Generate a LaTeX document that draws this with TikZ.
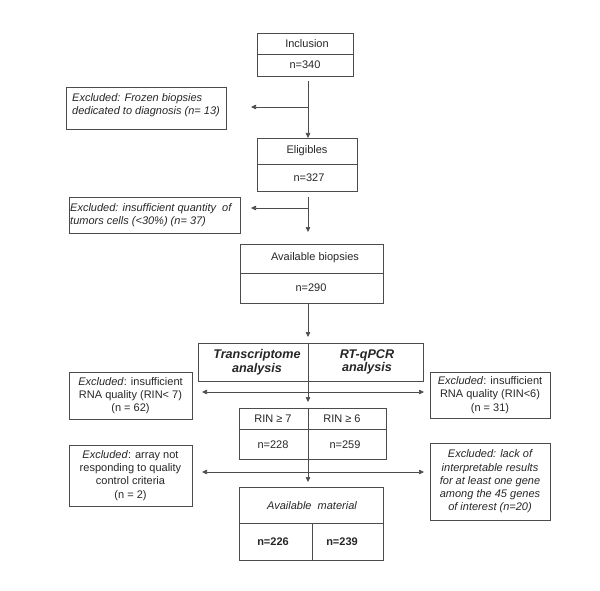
\documentclass[tikz,border=0pt]{standalone}
\usepackage{fontspec}
\setmainfont{Liberation Sans}
\usetikzlibrary{arrows.meta}
\begin{document}
\begin{tikzpicture}[x=1pt, y=-1pt]
\tikzstyle{BoxStyle}=[shape=rectangle, draw=black!70, line width=0.7pt, inner sep=0pt]
\tikzstyle{TextStyle}=[font=\fontsize{11}{13.3}\selectfont, inner sep=0pt, align=center, text=black!85]
\tikzstyle{BoldStyle}=[TextStyle, font=\fontsize{12.6}{13.5}\selectfont\bfseries\itshape]
\tikzstyle{LineStyle}=[draw=black!70, line width=0.7pt]
\tikzstyle{ArrowStyle}=[LineStyle, -{Triangle[length=5pt, width=4.5pt]}]
\tikzstyle{BothStyle}=[LineStyle, {Triangle[length=5pt, width=4.5pt]}-{Triangle[length=5pt, width=4.5pt]}]
\useasboundingbox (0,0) rectangle (600,591);
\node[BoxStyle, minimum width=96pt, minimum height=43pt] (incl) at (305,54.5) {};
\node[BoxStyle, minimum width=100pt, minimum height=53pt] (elig) at (307,164.5) {};
\node[BoxStyle, minimum width=143pt, minimum height=59pt] (avail) at (311.5,273.5) {};
\node[BoxStyle, minimum width=225pt, minimum height=38pt] (anal) at (310.5,362) {};
\node[BoxStyle, minimum width=147pt, minimum height=51pt] (rin) at (312.5,433.5) {};
\node[BoxStyle, minimum width=144pt, minimum height=73pt] (mat) at (311,523.5) {};
\node[BoxStyle, minimum width=160pt, minimum height=42pt] (exc1) at (146,108) {};
\node[BoxStyle, minimum width=171pt, minimum height=36pt] (exc2) at (154.5,215) {};
\node[BoxStyle, minimum width=123pt, minimum height=47pt] (exc3l) at (130.5,395.5) {};
\node[BoxStyle, minimum width=120pt, minimum height=46pt] (exc3r) at (490,395) {};
\node[BoxStyle, minimum width=123pt, minimum height=61pt] (exc4l) at (130.5,475.5) {};
\node[BoxStyle, minimum width=120pt, minimum height=77pt] (exc4r) at (490,481.5) {};
\draw[LineStyle] (incl.west) -- (incl.east);
\draw[LineStyle] (elig.west) -- (elig.east);
\draw[LineStyle] (avail.west) -- (avail.east);
\draw[LineStyle] ([yshift=4.5pt]rin.west) -- ([yshift=4.5pt]rin.east);
\draw[LineStyle] (mat.west) -- (mat.east);
\draw[LineStyle] (312,523) -- (mat.south -| 312,523);
\node[TextStyle] (t1) at (307,43.5) {Inclusion};
\node[TextStyle] (t2) at (305,65) {n=340};
\node[TextStyle] (t3) at (307,151) {Eligibles};
\node[TextStyle] (t4) at (309,177.5) {n=327};
\node[TextStyle] (t5) at (315,258) {Available biopsies};
\node[TextStyle] (t6) at (311,287.5) {n=290};
\node[BoldStyle] (t7) at (257,362) {Transcriptome\\analysis};
\node[BoldStyle] (t8) at (367,362) {RT-qPCR\\analysis};
\node[TextStyle] (t9) at (273,418.5) {RIN ≥ 7};
\node[TextStyle] (t10) at (342,418.5) {RIN ≥ 6};
\node[TextStyle] (t11) at (273,444.5) {n=228};
\node[TextStyle] (t12) at (345,444.5) {n=259};
\node[TextStyle, font=\fontsize{11}{13.3}\selectfont\itshape] (t13) at (312,505.5) {Available\ \ material};
\node[TextStyle, font=\fontsize{11}{13.3}\selectfont\bfseries] (t14) at (273,542) {n=226};
\node[TextStyle, font=\fontsize{11}{13.3}\selectfont\bfseries] (t15) at (342,542) {n=239};
\node[TextStyle, anchor=west, align=left, font=\fontsize{11}{13.3}\selectfont\itshape] (t16) at (72,105) {Excluded: Frozen biopsies\\dedicated to diagnosis (n= 13)};
\node[TextStyle, anchor=west, align=left, font=\fontsize{11}{13.3}\selectfont\itshape] (t17) at (70,215) {Excluded: insufficient quantity\ \ of\\tumors cells (<30\%) (n= 37)};
\node[TextStyle] (t18) at (exc3l) {\textit{Excluded}: insufficient\\RNA quality (RIN< 7)\\(n = 62)};
\node[TextStyle] (t19) at (exc3r) {\textit{Excluded}: insufficient\\RNA quality (RIN<6)\\(n = 31)};
\node[TextStyle] (t20) at (exc4l) {\textit{Excluded}: array not\\responding to quality\\control criteria\\(n = 2)};
\node[TextStyle, font=\fontsize{11}{13.3}\selectfont\itshape] (t21) at (exc4r) {Excluded: lack of\\interpretable results\\for at least one gene\\among the 45 genes\\of interest (n=20)};
\coordinate (s1) at (308,81);
\coordinate (s2) at (308,138);
\coordinate (s3) at (308,197);
\coordinate (s4) at (308,232);
\coordinate (s5) at (308,303);
\coordinate (s6) at (308,337);
\coordinate (s7) at (308,343);
\coordinate (s8) at (308,402);
\coordinate (s9) at (308,408);
\coordinate (s10) at (308,482);
\coordinate (b1) at (308,107);
\coordinate (e1) at (251,107);
\coordinate (b2) at (308,208);
\coordinate (e2) at (251,208);
\coordinate (l1) at (202,392);
\coordinate (r1) at (424,392);
\coordinate (l2) at (202,472);
\coordinate (r2) at (424,472);
\draw[ArrowStyle] (s1) -- (s2);
\draw[ArrowStyle] (b1) -- (e1);
\draw[ArrowStyle] (s3) -- (s4);
\draw[ArrowStyle] (b2) -- (e2);
\draw[ArrowStyle] (s5) -- (s6);
\draw[ArrowStyle] (s7) -- (s8);
\draw[ArrowStyle] (s9) -- (s10);
\draw[BothStyle] (l1) -- (r1);
\draw[BothStyle] (l2) -- (r2);
\end{tikzpicture}
\end{document}
